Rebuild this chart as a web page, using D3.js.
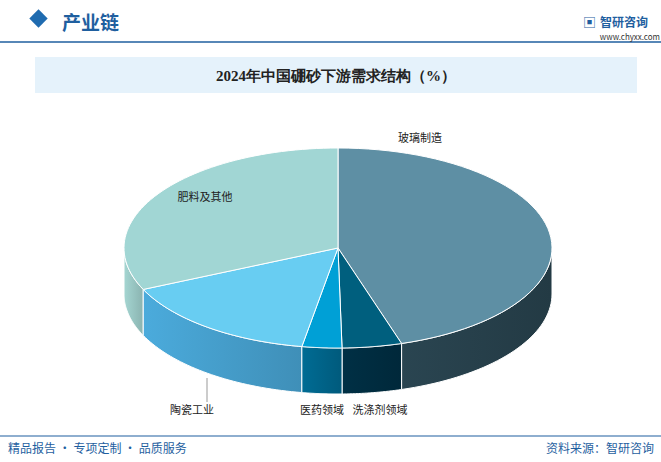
<!DOCTYPE html>
<html><head><meta charset="utf-8">
<script src="https://cdn.jsdelivr.net/npm/d3@7"></script>
<style>body{margin:0;background:#fff}svg{font-family:"Noto Sans CJK SC","Noto Sans",sans-serif}</style>
</head><body><svg id="c" width="661" height="462"></svg>
<script>
const categories = ["玻璃制造", "洗涤剂领域", "医药领域", "陶瓷工业", "肥料及其他"];
const values = [45.2, 4.5, 3.0, 15.5, 31.8];
const topColors = ["#5e8fa4", "#005f7e", "#00a0d6", "#68cdf2", "#a1d6d4"];
const sideColors = ["#233a44", "#00283a", "#005a7c", "#3f8fb8", "#8ab3b0"];

const svg = d3.select("#c");
const cx = 338, cy = 248, rx = 214, ry = 100, depth = 46;

// header
svg.append("rect").attr("x", 32).attr("y", 12).attr("width", 13).attr("height", 13)
  .attr("fill", "#1f6bb0").attr("transform", "rotate(45,38.5,18.5)");
svg.append("text").attr("x", 62).attr("y", 30).attr("font-size", 19).attr("fill", "#1f5f9f").attr("font-weight", "bold").text("产业链");
svg.append("line").attr("x1", 0).attr("x2", 661).attr("y1", 42).attr("y2", 42).attr("stroke", "#1f5f9f").attr("stroke-width", 1.5);
svg.append("text").attr("x", 600).attr("y", 27).attr("font-size", 12).attr("fill", "#1f5f9f").attr("font-weight", "bold").text("智研咨询");
svg.append("text").attr("x", 583).attr("y", 27).attr("font-size", 13).attr("fill", "#1f5f9f").text("▣");
svg.append("text").attr("x", 660).attr("y", 40).attr("font-size", 8).attr("text-anchor", "end").attr("fill", "#333").text("www.chyxx.com");

svg.append("rect").attr("x", 35).attr("y", 57).attr("width", 602).attr("height", 36).attr("fill", "#e5f2fb");
svg.append("text").attr("x", 336).attr("y", 81).attr("text-anchor", "middle").attr("font-size", 15).attr("font-weight", "bold")
  .attr("font-family", "serif").attr("fill", "#222").text("2024年中国硼砂下游需求结构（%）");

// footer
svg.append("line").attr("x1", 0).attr("x2", 661).attr("y1", 436).attr("y2", 436).attr("stroke", "#1f5f9f").attr("stroke-width", 1.2);
svg.append("text").attr("x", 8).attr("y", 453).attr("font-size", 12).attr("fill", "#1f5f9f").text("精品报告 · 专项定制 · 品质服务");
svg.append("text").attr("x", 654).attr("y", 453).attr("text-anchor", "end").attr("font-size", 12).attr("fill", "#1f5f9f").text("资料来源：智研咨询");

// 3D pie
const pie = d3.pie().sort(null).value(d => d).startAngle(0).endAngle(2 * Math.PI);
const arcs = pie(values).map((a, i) => ({...a, i}));
const pt = (t, dz = 0) => [cx + rx * Math.sin(t), cy - ry * Math.cos(t) + dz];

function sidePath(t1, t2) {
  const n = 40, p = d3.path();
  for (let k = 0; k <= n; k++) {
    const [x, y] = pt(t1 + (t2 - t1) * k / n);
    k ? p.lineTo(x, y) : p.moveTo(x, y);
  }
  for (let k = n; k >= 0; k--) {
    const [x, y] = pt(t1 + (t2 - t1) * k / n, depth);
    p.lineTo(x, y);
  }
  p.closePath();
  return p.toString();
}
function topPath(a) {
  const n = 60, p = d3.path();
  p.moveTo(cx, cy);
  for (let k = 0; k <= n; k++) {
    const [x, y] = pt(a.startAngle + (a.endAngle - a.startAngle) * k / n);
    p.lineTo(x, y);
  }
  p.closePath();
  return p.toString();
}

// visible outer sides: front half (pi/2 .. 3pi/2)
const sides = arcs.map(a => {
  const t1 = Math.max(a.startAngle, Math.PI / 2), t2 = Math.min(a.endAngle, 3 * Math.PI / 2);
  return {a, t1, t2};
}).filter(s => s.t2 > s.t1);
sides.sort((u, v) => Math.abs((v.t1 + v.t2) / 2 - Math.PI) - Math.abs((u.t1 + u.t2) / 2 - Math.PI));

const defs = svg.append("defs");
sides.forEach(s => {
  const g = defs.append("linearGradient").attr("id", "g" + s.a.i);
  g.append("stop").attr("offset", "0%").attr("stop-color", d3.color(sideColors[s.a.i]).brighter(0.5));
  g.append("stop").attr("offset", "100%").attr("stop-color", sideColors[s.a.i]);
});
svg.append("g").selectAll("path").data(sides).join("path")
  .attr("d", s => sidePath(s.t1, s.t2)).attr("fill", s => `url(#g${s.a.i})`)
  .attr("stroke", "#fff").attr("stroke-width", 1);

svg.append("g").selectAll("path").data(arcs).join("path")
  .attr("d", topPath).attr("fill", a => topColors[a.i]).attr("stroke", "#fff").attr("stroke-width", 1);

// labels
const labelPos = [[420, 142, "middle"], [380, 414, "middle"], [322, 414, "middle"], [192, 414, "middle"], [205, 201, "middle"]];
svg.append("g").selectAll("text").data(categories).join("text")
  .attr("x", (d, i) => labelPos[i][0]).attr("y", (d, i) => labelPos[i][1])
  .attr("text-anchor", "middle").attr("font-size", 11).attr("fill", "#222").text(d => d);
svg.append("line").attr("x1", 207).attr("x2", 207).attr("y1", 378).attr("y2", 402).attr("stroke", "#999");
</script></body></html>
